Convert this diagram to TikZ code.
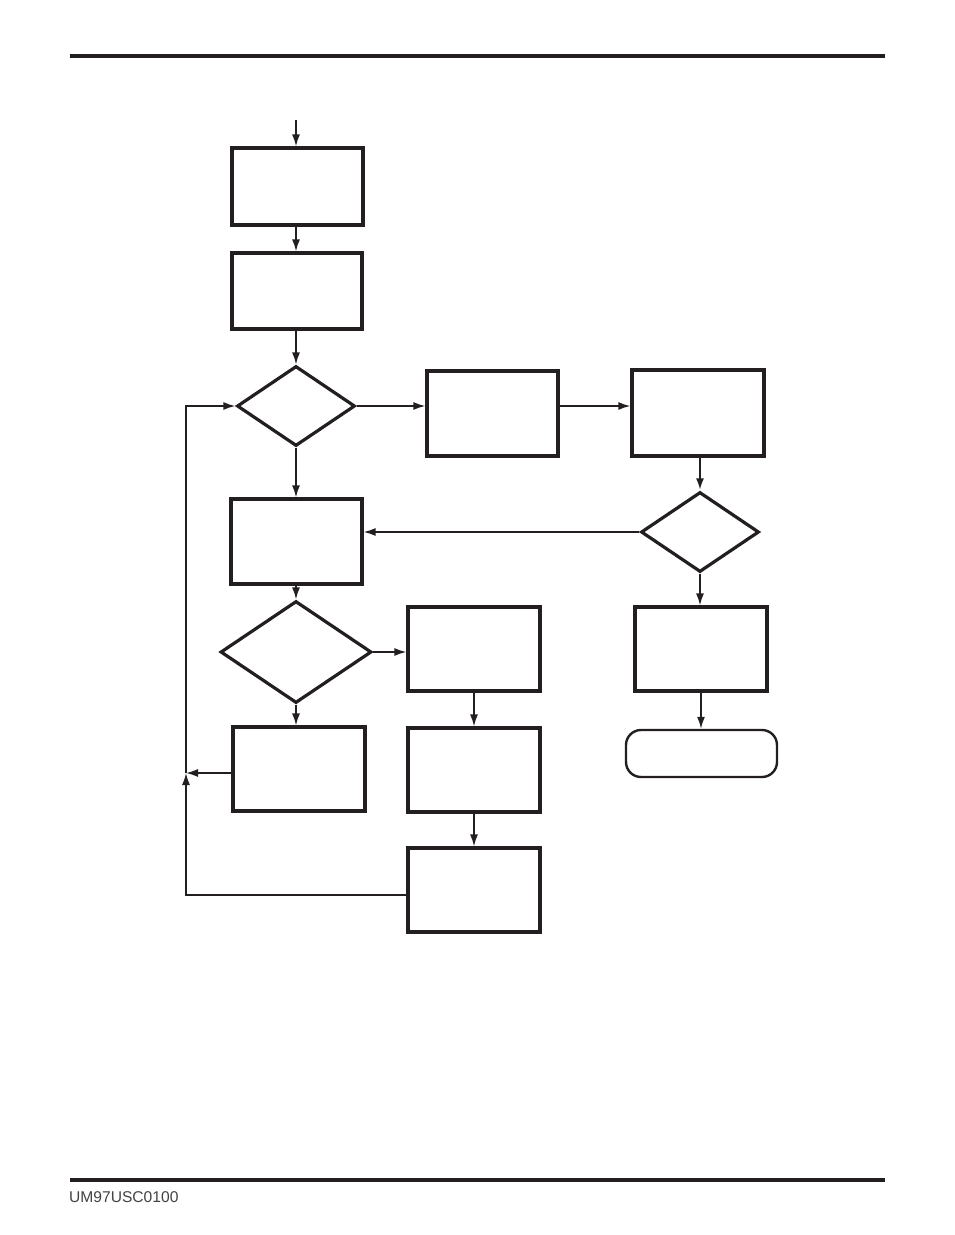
\documentclass[tikz,border=0pt]{standalone}
\usepackage{fontspec}
\setmainfont{Liberation Sans}
\usetikzlibrary{shapes.geometric,arrows.meta}
\definecolor{ink}{HTML}{231F20}
\tikzset{
  box/.style={draw=ink, line width=3.2pt, rectangle, inner sep=0pt},
  dia/.style={draw=ink, line width=3.2pt, diamond, inner sep=0pt},
  term/.style={draw=ink, line width=2.4pt, rectangle, rounded corners=15pt, inner sep=0pt},
  conn/.style={draw=ink, line width=1.6pt, -{Latex[length=12pt,width=8pt]}},
  thickconn/.style={draw=ink, line width=2.4pt, -{Latex[length=12pt,width=8pt]}},
}
\begin{document}
\begin{tikzpicture}[x=1pt,y=-1pt]
\useasboundingbox (0,0) rectangle (954,1235);
% rules
\draw[ink, line width=3.5pt] (70,56) -- (885,56);
\draw[ink, line width=4.5pt] (70,1180) -- (885,1180);
\node[anchor=west, inner sep=0pt, text=ink!85, font=\fontsize{15.6}{18}\selectfont] (ftr) at (69,1197) {UM97USC0100};

% boxes
\node[box, minimum width=131, minimum height=77] (b1) at (297.5,186.5) {};
\node[box, minimum width=130, minimum height=76] (b2) at (297,291) {};
\node[dia, minimum width=118, minimum height=80] (d1) at (296,406) {};
\node[box, minimum width=131, minimum height=85] (b3) at (492.5,413.5) {};
\node[box, minimum width=132, minimum height=86] (b4) at (698,413) {};
\node[dia, minimum width=118, minimum height=80] (d2) at (700,532) {};
\node[box, minimum width=131, minimum height=85] (b5) at (296.5,541.5) {};
\node[dia, minimum width=151, minimum height=102] (d3) at (296,652) {};
\node[box, minimum width=132, minimum height=84] (b6) at (474,649) {};
\node[box, minimum width=132, minimum height=84] (b7) at (299,769) {};
\node[box, minimum width=132, minimum height=84] (b8) at (474,770) {};
\node[box, minimum width=132, minimum height=84] (b9) at (474,890) {};
\node[box, minimum width=132, minimum height=84] (b10) at (701,649) {};
\node[term, minimum width=151, minimum height=47] (t) at (701.5,753.5) {};

% connectors
\coordinate (in) at (296,120);
\coordinate (lm) at (186,773);
\coordinate (lb) at (186,895);

\draw[conn] (in) -- (in |- b1.north);
\draw[conn] (b1.south -| in) -- (in |- b2.north);
\draw[conn] (b2.south -| d1.north) -- (d1.north);
\draw[conn] (d1.east) -- (d1.east -| b3.west);
\draw[conn] (b3.east |- d1.east) -- (d1.east -| b4.west);
\draw[thickconn] (b4.south -| d2.north) -- (d2.north);
\draw[conn] (d1.south) -- (d1.south |- b5.north);
\draw[conn] (d2.west) -- (d2.west -| b5.east);
\draw[conn] (b5.south -| d3.north) -- (d3.north);
\draw[conn] (d3.east) -- (d3.east -| b6.west);
\draw[conn] (d3.south) -- (d3.south |- b7.north);
\draw[conn] (b6.south) -- (b8.north);
\draw[conn] (b8.south) -- (b9.north);
\draw[conn] (d2.south) -- (d2.south |- b10.north);
\draw[conn] (b10.south) -- (b10.south |- t.north);

% loop back
\draw[conn] (b9.west |- lb) -- (lb) -- (lm);
\draw[conn] (b7.west |- lm) -- (lm);
\draw[conn] (lm) -- (lm |- d1.west) -- (d1.west);
\end{tikzpicture}
\end{document}
